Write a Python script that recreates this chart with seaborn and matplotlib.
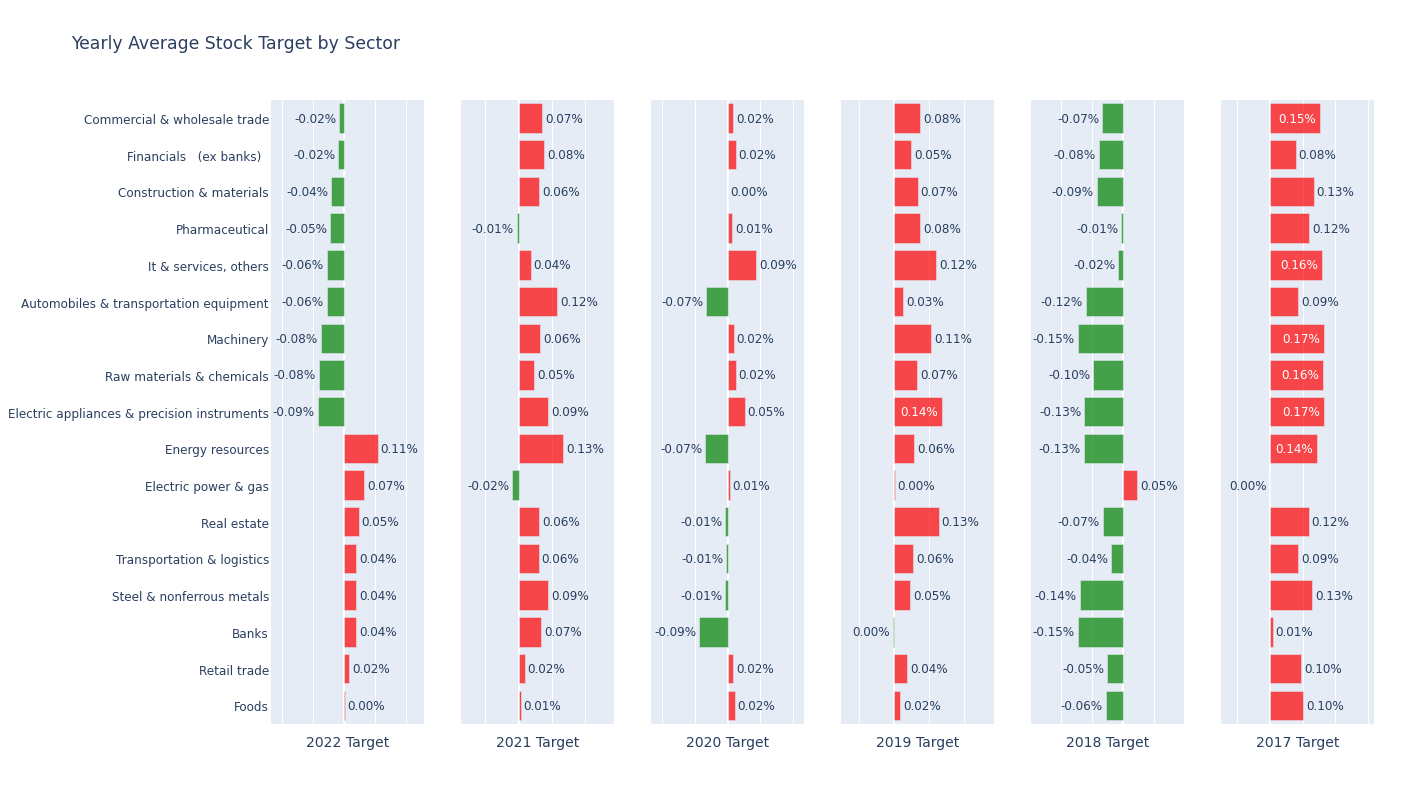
import numpy as np
import pandas as pd
import matplotlib.pyplot as plt
import seaborn as sns
from matplotlib.ticker import MultipleLocator

# ==========================================
# data (values in %)
# ==========================================
SECTORS = [
    "Commercial & wholesale trade",
    "Financials   (ex banks)  ",
    "Construction & materials",
    "Pharmaceutical",
    "It & services, others",
    "Automobiles & transportation equipment",
    "Machinery",
    "Raw materials & chemicals",
    "Electric appliances & precision instruments",
    "Energy resources",
    "Electric power & gas",
    "Real estate",
    "Transportation & logistics",
    "Steel & nonferrous metals",
    "Banks",
    "Retail trade",
    "Foods",
]

YEARS = ["2022", "2021", "2020", "2019", "2018", "2017"]

target_2022 = [-0.016, -0.019, -0.042, -0.046, -0.056, -0.056, -0.076, -0.082, -0.086,
               0.109, 0.066, 0.047, 0.038, 0.038, 0.038, 0.017, 0.002]
target_2021 = [0.071, 0.077, 0.061, -0.006, 0.036, 0.116, 0.064, 0.047, 0.089,
               0.133, -0.020, 0.061, 0.060, 0.089, 0.067, 0.018, 0.006]
target_2020 = [0.016, 0.024, 0.0001, 0.014, 0.086, -0.066, 0.018, 0.024, 0.052,
               -0.068, 0.006, -0.007, -0.005, -0.007, -0.086, 0.017, 0.021]
target_2019 = [0.076, 0.049, 0.068, 0.076, 0.121, 0.026, 0.106, 0.066, 0.137,
               0.057, 0.002, 0.128, 0.056, 0.047, -0.002, 0.037, 0.017]
target_2018 = [-0.068, -0.078, -0.086, -0.006, -0.016, -0.120, -0.146, -0.096, -0.126,
               -0.128, 0.046, -0.066, -0.038, -0.140, -0.147, -0.051, -0.056]
target_2017 = [0.152, 0.078, 0.133, 0.120, 0.160, 0.087, 0.166, 0.161, 0.166,
               0.144, -0.0005, 0.118, 0.086, 0.128, 0.008, 0.096, 0.101]

TARGETS = [target_2022, target_2021, target_2020, target_2019, target_2018, target_2017]

# ==========================================
# layout (pixel geometry of the reference)
# ==========================================
W, H = 1424, 804
PANEL_LEFT = [271, 461, 651, 841, 1031, 1221]
PANEL_W = 153
PLOT_TOP, PLOT_BOTTOM = 100.7, 724.6
X_LIMITS = [(-0.237, 0.259), (-0.173, 0.286), (-0.234, 0.233),
            (-0.152, 0.287), (-0.298, 0.197), (-0.150, 0.318)]

TEXT_COLOR = "#2a3f5f"
BG = "#E5ECF6"


def fmt(v):
    s = f"{v:.2f}"
    if s == "-0.00":
        s = "0.00"
    return s + "%"


sns.set_style("darkgrid", {"axes.facecolor": BG, "grid.color": "white"})
plt.rcParams["font.family"] = ["DejaVu Sans"]

fig = plt.figure(figsize=(W / 100, H / 100), dpi=100)
renderer = fig.canvas.get_renderer()

for k, (year, vals) in enumerate(zip(YEARS, TARGETS)):
    df = pd.DataFrame({"sector": SECTORS, "value": vals})
    df["sign"] = np.where(df["value"] > 0, "pos", "neg")

    ax = fig.add_axes([PANEL_LEFT[k] / W, 1 - PLOT_BOTTOM / H,
                       PANEL_W / W, (PLOT_BOTTOM - PLOT_TOP) / H])
    sns.barplot(data=df, x="value", y="sector", hue="sign", order=SECTORS,
                hue_order=["pos", "neg"], palette={"pos": "red", "neg": "green"},
                dodge=False, legend=False, saturation=1, alpha=0.7,
                edgecolor=BG, linewidth=0.5, ax=ax)

    ax.set_xlim(*X_LIMITS[k])
    ax.set_ylim(len(SECTORS) - 0.5, -0.5)
    ax.xaxis.set_major_locator(MultipleLocator(0.1))
    ax.set_axisbelow(True)
    ax.grid(axis="y", visible=False)
    ax.grid(axis="x", color="white", linewidth=0.75)
    ax.axvline(0, color="white", linewidth=1.5, zorder=0.8)
    for sp in ax.spines.values():
        sp.set_visible(False)

    ax.tick_params(axis="x", labelbottom=False, length=0)
    ax.tick_params(axis="y", length=0, pad=1.5, labelsize=8.64, labelcolor=TEXT_COLOR)
    if k > 0:
        ax.tick_params(axis="y", labelleft=False)
    ax.set_ylabel("")
    ax.set_xlabel(f"{year} Target", fontsize=10.08, color=TEXT_COLOR, labelpad=8)

    # bar text labels, inside when they fit (like plotly "auto")
    px_unit = ax.transData.transform((1, 0))[0] - ax.transData.transform((0, 0))[0]
    for i, v in enumerate(vals):
        pos = v > 0
        t = ax.annotate(fmt(v), (v, i), xytext=(3 if pos else -3, 0),
                        textcoords="offset pixels", ha="left" if pos else "right",
                        va="center", fontsize=8.64, color=TEXT_COLOR)
        w = t.get_window_extent(renderer).width
        if abs(v) * px_unit >= w + 7.5:
            t.set_position((-4 if pos else 4, 0))
            t.set_ha("right" if pos else "left")
            t.set_color("white")

fig.text(71 / W, 1 - 44 / H, "Yearly Average Stock Target by Sector",
         fontsize=12.45, color=TEXT_COLOR, va="center", ha="left")

fig.savefig("out.png", dpi=100)
